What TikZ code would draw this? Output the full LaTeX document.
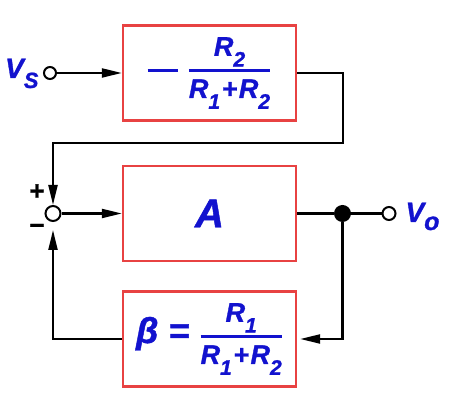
\documentclass[tikz,border=0pt]{standalone}
\usepackage{amsmath}
\usepackage{fontspec}
\setmainfont{Liberation Sans}[BoldItalicFeatures={FakeBold=1.2},BoldFeatures={FakeBold=1.2}]
\usetikzlibrary{calc,arrows.meta}
\definecolor{boxred}{RGB}{232,66,66}
\definecolor{txtblue}{RGB}{18,18,206}
\newcommand{\Rsub}[1]{R\raisebox{-0.4em}{\fontsize{21}{21}\selectfont #1}}
\newcommand{\fracR}[2]{\genfrac{}{}{2.8pt}{1}{\mbox{#1}}{\mbox{\rule{0pt}{23pt}#2}}}
\newcommand{\Rsum}{\Rsub{1}\kern1.5pt+\kern1.5pt\Rsub{2}}

\begin{document}
\begin{tikzpicture}[x=1pt,y=1pt,
    blk/.style={draw=boxred,line width=2.4pt,minimum width=173pt,minimum height=95pt,
      text=txtblue,font=\fontsize{27}{30}\selectfont\bfseries\itshape},
    port/.style={circle,draw,line width=2pt,fill=white,inner sep=0pt,minimum size=#1},
    wire/.style={line width=2.3pt},
    arr/.style={wire,-{Triangle[length=20pt,width=9pt]}},
    lab/.style={text=txtblue,font=\fontsize{28}{30}\selectfont\bfseries\itshape},
    sgn/.style={font=\fontsize{26}{28}\selectfont\bfseries}]
    \useasboundingbox(0,0)rectangle(450,401);
    \node[blk](fwd)at(209.5,328){$\vcenter{\hbox{\rule{30pt}{2.8pt}}}\hspace{10pt}\fracR{\Rsub{2}}{\Rsum}$};
    \node[blk,font=\fontsize{40}{44}\selectfont\bfseries\itshape](amp)at(209.5,187.5){A};
    \node[blk](fb)at(209.5,62){{\fontsize{36}{36}\selectfont β = }$\fracR{\Rsub{1}}{\Rsum}$};
    \node[port=12pt](vin)at(50,328){};
    \node[port=15pt](sum)at(53,187.5){};
    \node[port=13pt](vout)at(389,187.5){};
    \node[circle,fill=black,inner sep=0pt,minimum size=17pt](dot)at(342.5,187.5){};
    \coordinate(tr)at(343,258);
    \node[lab,anchor=base east](vs)at(42,323){V\raisebox{-10pt}{\fontsize{22}{22}\selectfont S}};
    \node[lab,anchor=base west](vo)at(402,179){V\raisebox{-8pt}{\fontsize{25}{25}\selectfont o}};
    \node[sgn](plus)at(37,209){+};
    \node[sgn](minus)at(37,172){−};
    \draw[arr](vin)--(fwd.west);
    \draw[arr](fwd.east)-|(tr)-|(sum.north);
    \draw[arr](sum)--(amp.west);
    \draw[wire](amp.east)--(dot)--(vout);
    \draw[arr,shorten >=3pt](dot)|-(fb.east);
    \draw[arr,shorten >=8pt](fb.west)-|(sum.south);
  \end{tikzpicture}
\end{document}
